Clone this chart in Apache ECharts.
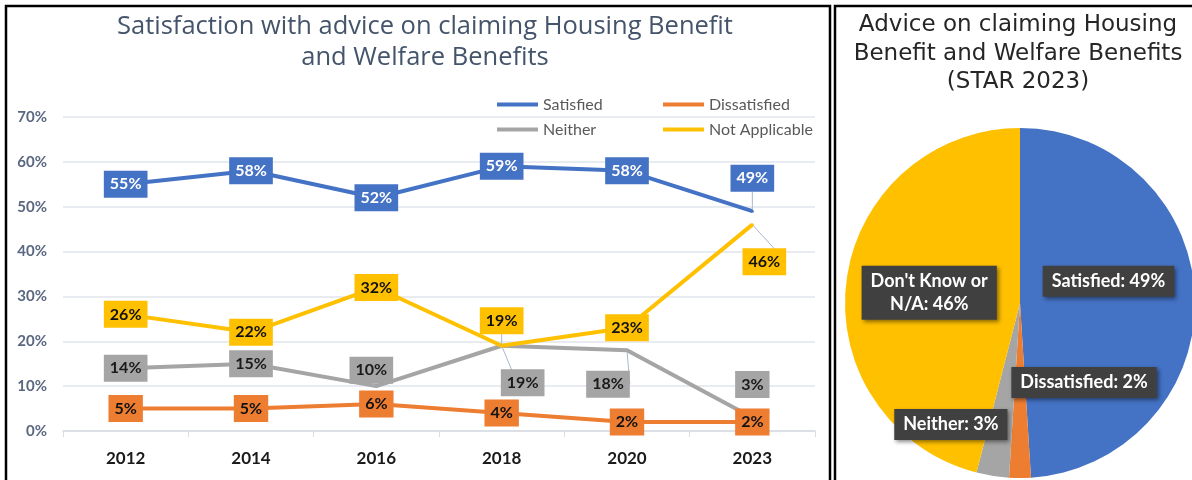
<!DOCTYPE html>
<html>
<head>
<meta charset="utf-8">
<script src="https://cdn.jsdelivr.net/npm/echarts@6/dist/echarts.min.js"></script>
<style>
  html, body { margin: 0; padding: 0; background: #fff; }
  #chart { width: 1192px; height: 480px; }
</style>
</head>
<body>
<div id="chart"></div>
<script>
// Datos del gráfico
const years = ['2012', '2014', '2016', '2018', '2020', '2023'];
const satisfied = [55, 58, 52, 59, 58, 49];
const dissatisfied = [5, 5, 6, 4, 2, 2];
const neither = [14, 15, 10, 19, 18, 3];
const notApplicable = [26, 22, 32, 19, 23, 46];

const pieNames = ['Satisfied', 'Dissatisfied', 'Neither', "Don't Know or N/A"];
const pieValues = [49, 2, 3, 46];

const yMin = 0;
const yMax = 70;
const yStep = 10;

// colores
const blue = '#4472c4';
const orange = '#ed7d31';
const grey = '#a5a5a5';
const yellow = '#ffc000';

// desplazamiento de etiquetas (donde Excel las movió)
const satOffsets = [[0, 0], [0, 0], [0, 0], [0, 0], [0, 0], [0, -33]];
const disOffsets = [[0, 0], [0, 0], [0, 0], [0, 0], [0, 0], [0, 0]];
const neiOffsets = [[0, 0], [0, 0], [-5, -16], [21, 37], [-19, 34], [0, -33]];
const naOffsets = [[0, 0], [0, 0], [0, 0], [0, -25], [0, 0], [12, 37]];
const pieOffsets = [[-2, -19], [64, -11], [-55, 32], [-1, 1]];

function buildPoints(values, offsets) {
    return values.map(function (v, i) {
        const off = offsets[i];
        const moved = Math.abs(off[0]) + Math.abs(off[1]) > 20;
        return {
            value: v,
            label: { offset: off },
            labelLine: { show: moved }
        };
    });
}

function lineSeries(name, values, offsets, color, textColor) {
    return {
        name: name,
        type: 'line',
        data: buildPoints(values, offsets),
        symbol: 'circle',
        symbolSize: 3,
        showSymbol: true,
        lineStyle: { width: 4, color: color },
        itemStyle: { color: color },
        label: {
            show: true,
            position: 'inside',
            formatter: '{c}%',
            fontFamily: 'Lato',
            fontWeight: 'bold',
            fontSize: 16,
            color: textColor,
            backgroundColor: color,
            padding: [6, 6, 5, 6]
        },
        labelLine: {
            lineStyle: { color: '#a9b8cc', width: 1 }
        },
        emphasis: { disabled: true }
    };
}

let chart = echarts.init(document.getElementById('chart'));

let option = {
    animation: false,
    backgroundColor: '#fff',

    title: [
        {
            text: 'Satisfaction with advice on claiming Housing Benefit\nand Welfare Benefits',
            left: 420,
            top: 6,
            textAlign: 'center',
            textStyle: {
                fontFamily: 'Open Sans',
                fontWeight: 'normal',
                fontSize: 25.5,
                lineHeight: 31,
                color: '#44546a'
            }
        },
        {
            text: 'Advice on claiming Housing\nBenefit and Welfare Benefits\n(STAR 2023)',
            left: 1013,
            top: 6,
            textAlign: 'center',
            textStyle: {
                fontFamily: 'DejaVu Sans',
                fontWeight: 'normal',
                fontSize: 23,
                lineHeight: 28.5,
                color: '#262626'
            }
        }
    ],

    legend: {
        data: ['Satisfied', 'Dissatisfied', 'Neither', 'Not Applicable'],
        left: 492,
        top: 88,
        width: 340,
        icon: 'rect',
        itemWidth: 41,
        itemHeight: 4,
        itemGap: 2,
        textStyle: {
            fontFamily: 'Lato',
            fontSize: 16,
            color: '#595959',
            width: 118,
            lineHeight: 23
        }
    },

    grid: {
        left: 63,
        right: 377,
        top: 117,
        bottom: 49
    },

    xAxis: {
        type: 'category',
        data: years,
        boundaryGap: true,
        axisLine: { lineStyle: { color: '#d9dde3', width: 1.5 } },
        axisTick: { show: true, length: 6, lineStyle: { color: '#d9dde3' } },
        axisLabel: {
            fontFamily: 'Lato',
            fontWeight: 'bold',
            fontSize: 17,
            color: '#1a1a1a',
            margin: 19
        }
    },

    yAxis: {
        type: 'value',
        min: yMin,
        max: yMax,
        interval: yStep,
        axisLine: { show: false },
        axisTick: { show: false },
        splitLine: { lineStyle: { color: '#e1e5eb', width: 1.5 } },
        axisLabel: {
            formatter: '{value}%',
            fontFamily: 'Lato',
            fontWeight: 'bold',
            fontSize: 15,
            color: '#5a6780',
            margin: 16
        }
    },

    series: [
        lineSeries('Satisfied', satisfied, satOffsets, blue, '#ffffff'),
        lineSeries('Dissatisfied', dissatisfied, disOffsets, orange, '#111111'),
        lineSeries('Neither', neither, neiOffsets, grey, '#1a1a1a'),
        lineSeries('Not Applicable', notApplicable, naOffsets, yellow, '#111111'),
        {
            name: 'STAR 2023',
            type: 'pie',
            center: [1020, 303],
            radius: 175,
            startAngle: 90,
            clockwise: true,
            color: [blue, orange, grey, yellow],
            emphasis: { disabled: true },
            label: {
                show: true,
                position: 'inside',
                formatter: function (p) {
                    return p.name.replace(' or ', ' or\n') + ': ' + p.value + '%';
                },
                fontFamily: 'Lato',
                fontWeight: 'bold',
                fontSize: 18,
                lineHeight: 23,
                color: '#ffffff',
                backgroundColor: '#404040',
                padding: [5, 9, 3, 9],
                shadowBlur: 4,
                shadowColor: 'rgba(0,0,0,0.45)',
                shadowOffsetX: 2,
                shadowOffsetY: 2
            },
            labelLine: { show: false },
            data: pieNames.map(function (n, i) {
                return {
                    name: n,
                    value: pieValues[i],
                    label: { offset: pieOffsets[i] }
                };
            })
        }
    ],

    // marcos de los dos paneles
    graphic: [
        {
            type: 'rect',
            shape: { x: 6, y: 6, width: 824, height: 490 },
            style: { fill: 'none', stroke: '#000', lineWidth: 2.5 },
            silent: true,
            z: 100
        },
        {
            type: 'rect',
            shape: { x: 835, y: 6, width: 400, height: 490 },
            style: { fill: 'none', stroke: '#000', lineWidth: 2.5 },
            silent: true,
            z: 100
        }
    ]
};

chart.setOption(option);

window.addEventListener('resize', function () {
    chart.resize();
});
</script>
</body>
</html>
